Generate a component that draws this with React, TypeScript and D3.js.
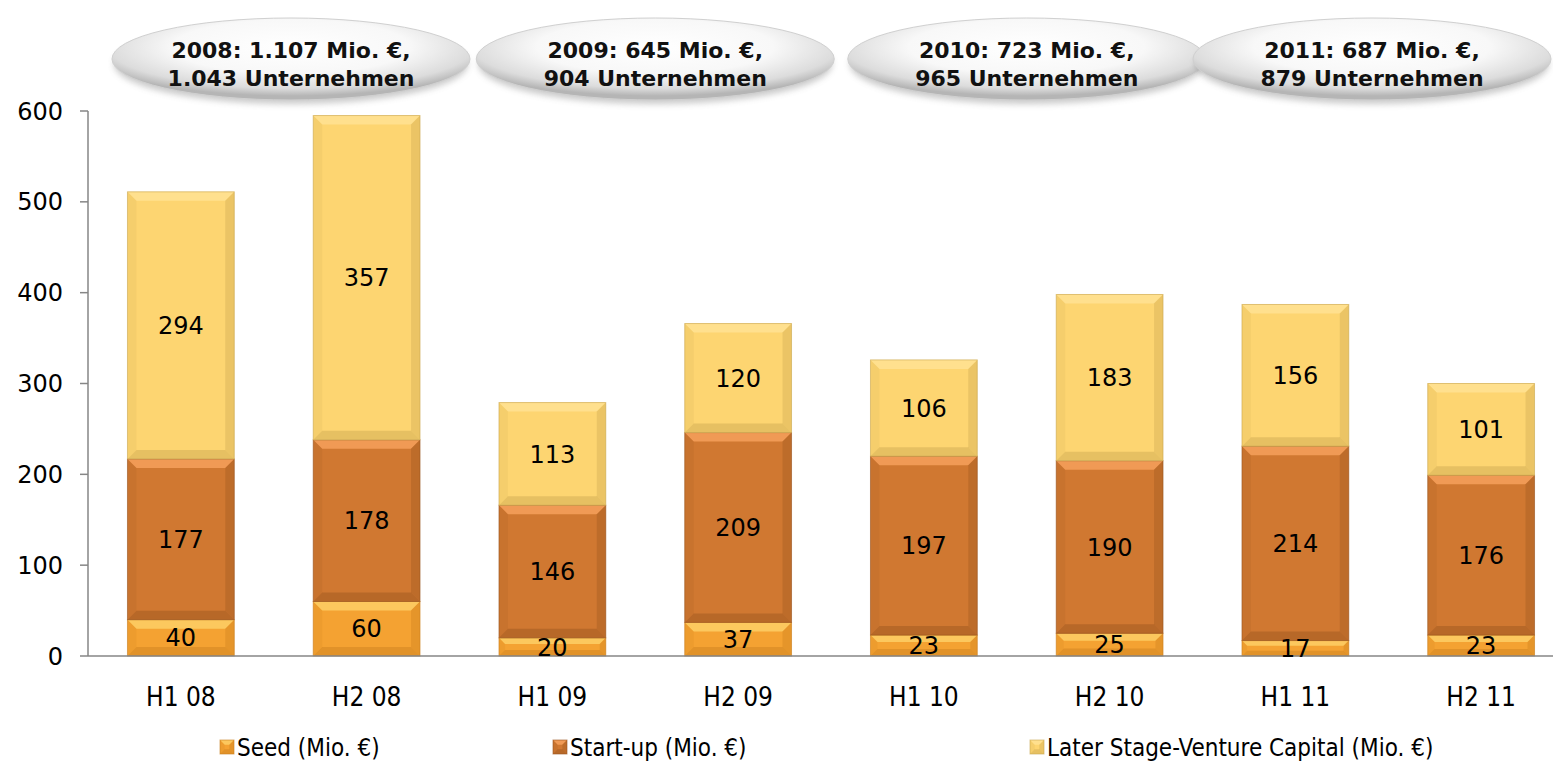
import React from "react";
import { scaleBand, scaleLinear, stack } from "d3";

const categories = ["H1 08", "H2 08", "H1 09", "H2 09", "H1 10", "H2 10", "H1 11", "H2 11"];
const seed = [40, 60, 20, 37, 23, 25, 17, 23];
const startUp = [177, 178, 146, 209, 197, 190, 214, 176];
const laterStage = [294, 357, 113, 120, 106, 183, 156, 101];
const yTicks = [0, 100, 200, 300, 400, 500, 600];
const seriesNames = ["Seed (Mio. €)", "Start-up (Mio. €)", "Later Stage-Venture Capital (Mio. €)"];
const yearBubbles = [
  ["2008: 1.107 Mio. €,", "1.043 Unternehmen"],
  ["2009: 645 Mio. €,", "904 Unternehmen"],
  ["2010: 723 Mio. €,", "965 Unternehmen"],
  ["2011: 687 Mio. €,", "879 Unternehmen"],
];

const colors = [
  { base: "#F4A232", light: "#FCC85E", dark: "#C97E1E" },
  { base: "#D07831", light: "#F09A55", dark: "#9A5520" },
  { base: "#FDD571", light: "#FFE08E", dark: "#C9A650" },
];

const W = 1553;
const H = 765;
const left = 88;
const right = 1574;
const y0 = 656;
const yTop = 111;

function BevelRect({ x, y, w, h, c }: { x: number; y: number; w: number; h: number; c: typeof colors[0] }) {
  const b = Math.min(9, h / 3);
  return (
    <g>
      <rect x={x} y={y} width={w} height={h} fill={c.base} />
      <polygon points={`${x},${y} ${x + w},${y} ${x + w - b},${y + b} ${x + b},${y + b}`} fill={c.light} />
      <polygon points={`${x},${y + h} ${x + w},${y + h} ${x + w - b},${y + h - b} ${x + b},${y + h - b}`} fill={c.dark} opacity={0.45} />
      <polygon points={`${x},${y} ${x + b},${y + b} ${x + b},${y + h - b} ${x},${y + h}`} fill={c.dark} opacity={0.15} />
      <polygon points={`${x + w},${y} ${x + w - b},${y + b} ${x + w - b},${y + h - b} ${x + w},${y + h}`} fill={c.dark} opacity={0.35} />
      <rect x={x} y={y} width={w} height={h} fill="none" stroke={c.dark} strokeWidth={1} opacity={0.6} />
    </g>
  );
}

export default function App() {
  const x = scaleBand<string>().domain(categories).range([left, right]).paddingInner(0.425).paddingOuter(0.2125);
  const y = scaleLinear().domain([0, 600]).range([y0, yTop]);

  const rows = categories.map((cat, i) => ({ cat, seed: seed[i], start: startUp[i], later: laterStage[i] }));
  const stacked = stack<any>().keys(["seed", "start", "later"])(rows);

  const font = "Verdana, 'DejaVu Sans', sans-serif";
  const condFont = "'DejaVu Sans Condensed', 'DejaVu Sans', sans-serif";

  const legendX = [220, 553, 1030];

  return (
    <svg width={W} height={H} style={{ position: "absolute", left: 0, top: 0 }}>
      <defs>
        <radialGradient id="bubble" cx="50%" cy="35%" r="60%">
          <stop offset="0%" stopColor="#ffffff" />
          <stop offset="55%" stopColor="#f8f8f8" />
          <stop offset="85%" stopColor="#dcdcdc" />
          <stop offset="100%" stopColor="#b5b5b5" />
        </radialGradient>
        <filter id="blur" x="-20%" y="-50%" width="140%" height="200%">
          <feGaussianBlur stdDeviation="3" />
        </filter>
      </defs>

      {/* year bubbles, one per pair of half-years */}
      {yearBubbles.map((lines, i) => {
        const rx = 179;
        let cx = (x(categories[i * 2])! + x(categories[i * 2 + 1])! + x.bandwidth()) / 2 + 10;
        cx = Math.max(cx, left + 24 + rx);
        cx = Math.min(cx, W - 2 - rx);
        const cy = 59;
        return (
          <g key={i}>
            <ellipse cx={cx} cy={cy + 5} rx={rx - 2} ry={40} fill="#888" opacity={0.45} filter="url(#blur)" />
            <ellipse cx={cx} cy={cy} rx={rx} ry={41} fill="url(#bubble)" stroke="#d0d0d0" strokeWidth={1} />
            <text x={cx} y={cy - 1} textAnchor="middle" fontFamily={font} fontWeight="bold" fontSize={22} fill="#111">
              {lines[0]}
            </text>
            <text x={cx} y={cy + 27} textAnchor="middle" fontFamily={font} fontWeight="bold" fontSize={22} fill="#111">
              {lines[1]}
            </text>
          </g>
        );
      })}

      {/* y axis */}
      <line x1={left} x2={left} y1={y(600)} y2={y0} stroke="#868686" strokeWidth={1.5} />
      {yTicks.map((t) => (
        <g key={t}>
          <line x1={left - 8} x2={left} y1={y(t)} y2={y(t)} stroke="#868686" strokeWidth={1.5} />
          <text x={left - 25} y={y(t)} dy="0.36em" textAnchor="end" fontFamily={font} fontSize={24} fill="#000">
            {t}
          </text>
        </g>
      ))}

      {/* bars */}
      {stacked.map((layer, si) =>
        layer.map((d, i) => {
          const bx = x(categories[i])!;
          const top = y(d[1]);
          const bot = y(d[0]);
          return <BevelRect key={`${si}-${i}`} x={bx} y={top} w={x.bandwidth()} h={bot - top} c={colors[si]} />;
        })
      )}

      {/* x axis */}
      <line x1={left} x2={W} y1={y0} y2={y0} stroke="#868686" strokeWidth={1.5} />

      {/* value labels */}
      {stacked.map((layer, si) =>
        layer.map((d, i) => {
          const cx = x(categories[i])! + x.bandwidth() / 2;
          const cy = (y(d[0]) + y(d[1])) / 2;
          return (
            <text key={`l${si}-${i}`} x={cx} y={cy} dy="0.36em" textAnchor="middle" fontFamily={font} fontSize={24} fill="#000">
              {d[1] - d[0]}
            </text>
          );
        })
      )}

      {/* category labels */}
      {categories.map((c) => (
        <text key={c} x={x(c)! + x.bandwidth() / 2} y={706} textAnchor="middle" fontFamily={condFont} fontSize={26} fill="#000">
          {c}
        </text>
      ))}

      {/* legend */}
      {seriesNames.map((n, i) => (
        <g key={n}>
          <BevelRect x={legendX[i]} y={740} w={14} h={14} c={colors[i]} />
          <text x={legendX[i] + 17} y={756} fontFamily={condFont} fontSize={24} fill="#000">
            {n}
          </text>
        </g>
      ))}
    </svg>
  );
}
